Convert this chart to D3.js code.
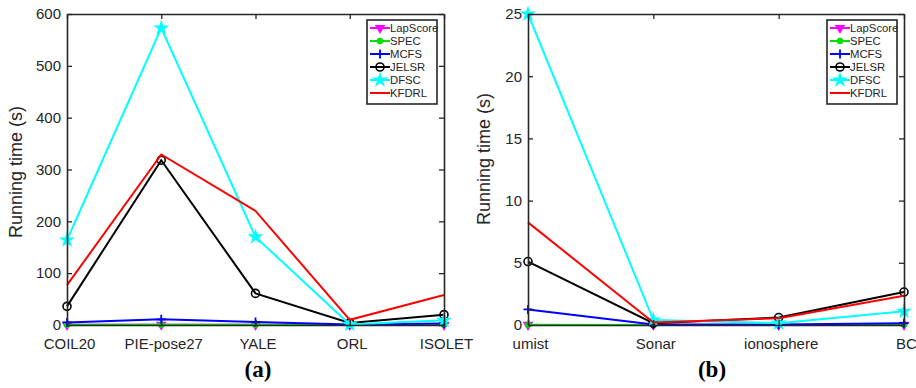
<!DOCTYPE html>
<html>
<head>
<meta charset="utf-8">
<script src="https://cdn.jsdelivr.net/npm/d3@7"></script>
<style>
body{margin:0;background:#fff;}
svg{display:block;}
</style>
</head>
<body>
<script>
var width=916;
var height=388;

// legend names
var seriesNames=["LapScore","SPEC","MCFS","JELSR","DFSC","KFDRL"];

// panel (a)
var catsA=["COIL20","PIE-pose27","YALE","ORL","ISOLET"];
var yTicksA=[0,100,200,300,400,500,600];
var lapA=[0.3,0.4,0.3,0.1,0.2];
var specA=[0.5,0.6,0.5,0.2,0.3];
var mcfsA=[5,11,6,1,3];
var jelsrA=[36,318,61,4,20];
var dfscA=[164,573,170,1,9];
var kfdrlA=[77,329,220,10,58];

// panel (b)
var catsB=["umist","Sonar","ionosphere","BC"];
var yTicksB=[0,5,10,15,20,25];
var lapB=[0.01,0.01,0.01,0.01];
var specB=[0.03,0.01,0.01,0.02];
var mcfsB=[1.25,0.05,0.05,0.15];
var jelsrB=[5.1,0.15,0.6,2.65];
var dfscB=[25,0.4,0.15,1.1];
var kfdrlB=[8.25,0.2,0.55,2.35];

var colors=["#ff00ff","#00e000","#0000ff","#000000","#00ffff","#ff0000"];
var markers=["tri","dot","plus","circle","star","none"];
var axisColor="#262626";
var font="'Liberation Sans', Arial, Helvetica, sans-serif";

var svg=d3.select("body")
    .append("svg")
    .attr("width",width)
    .attr("height",height);

function drawMarker(g,type,color){
    if(type=="tri"){
        g.append("path")
            .attr("d",d3.symbol().type(d3.symbolTriangle).size(48)())
            .attr("transform","rotate(180)")
            .attr("fill",color);
    }else if(type=="dot"){
        g.append("circle").attr("r",3.2).attr("fill",color);
    }else if(type=="plus"){
        g.append("path").attr("d","M-4.5,0H4.5M0,-4.5V4.5")
            .attr("stroke",color).attr("stroke-width",1.8).attr("fill","none");
    }else if(type=="circle"){
        g.append("circle").attr("r",4).attr("fill","none")
            .attr("stroke",color).attr("stroke-width",1.6);
    }else if(type=="star"){
        g.append("path")
            .attr("d",d3.symbol().type(d3.symbolStar).size(80)())
            .attr("fill",color);
    }
}

function drawPanel(p){
    var x=d3.scalePoint()
        .domain(p.cats)
        .range([p.left,p.right]);
    var y=d3.scaleLinear()
        .domain([0,p.ymax])
        .range([p.bottom,p.top]);

    var g=svg.append("g");

    var line=d3.line()
        .x(function(d,i){return x(p.cats[i]);})
        .y(function(d){return y(d);});

    p.series.forEach(function(vals,k){
        g.append("path")
            .datum(vals)
            .attr("d",line)
            .attr("fill","none")
            .attr("stroke",colors[k])
            .attr("stroke-width",2);
        vals.forEach(function(v,i){
            var m=g.append("g")
                .attr("transform","translate("+x(p.cats[i])+","+y(v)+")");
            drawMarker(m,markers[k],colors[k]);
        });
    });

    // axes, MATLAB style box with inward ticks
    var ax=svg.append("g");
    ax.append("g")
        .attr("transform","translate("+p.left+",0)")
        .call(d3.axisLeft(y).tickValues(p.yTicks).tickSize(-5).tickSizeOuter(0).tickPadding(6));
    ax.append("g")
        .attr("transform","translate("+p.right+",0)")
        .call(d3.axisRight(y).tickValues(p.yTicks).tickSize(-5).tickSizeOuter(0).tickFormat(""));
    var bottom=ax.append("g")
        .attr("transform","translate(0,"+p.bottom+")")
        .call(d3.axisBottom(x).tickSize(-5).tickSizeOuter(0).tickPadding(13));
    ax.append("g")
        .attr("transform","translate(0,"+p.top+")")
        .call(d3.axisTop(x).tickSize(-5).tickSizeOuter(0).tickFormat(""));

    ax.selectAll("path.domain").attr("stroke",axisColor).attr("stroke-width",1.6);
    ax.selectAll(".tick line").attr("stroke",axisColor).attr("stroke-width",1.3);
    ax.selectAll("text")
        .attr("fill",axisColor)
        .attr("font-size","15px")
        .attr("font-family",font);
    bottom.selectAll("text").attr("dx",2);

    // y label
    svg.append("text")
        .attr("transform","translate("+p.ylabX+","+p.ylabY+") rotate(-90)")
        .attr("text-anchor","middle")
        .attr("fill",axisColor)
        .attr("font-size","18px")
        .attr("font-family",font)
        .text("Running time (s)");

    // legend
    var lg=svg.append("g");
    lg.append("rect")
        .attr("x",p.legX)
        .attr("y",20)
        .attr("width",70)
        .attr("height",84)
        .attr("fill","#fff")
        .attr("stroke",axisColor)
        .attr("stroke-width",1.6);
    seriesNames.forEach(function(name,k){
        var ly=28+k*13;
        lg.append("line")
            .attr("x1",p.legX+3).attr("x2",p.legX+23)
            .attr("y1",ly).attr("y2",ly)
            .attr("stroke",colors[k]).attr("stroke-width",2);
        var m=lg.append("g").attr("transform","translate("+(p.legX+13)+","+ly+")");
        drawMarker(m,markers[k],colors[k]);
        lg.append("text")
            .attr("x",p.legX+23)
            .attr("y",ly)
            .attr("dy","0.35em")
            .attr("fill",axisColor)
            .attr("font-size","11.3px")
            .attr("font-family",font)
            .text(name);
    });

    // sub title
    svg.append("text")
        .attr("x",p.titleX)
        .attr("y",377)
        .attr("text-anchor","middle")
        .attr("font-size","23px")
        .attr("font-weight","bold")
        .attr("font-family","'Liberation Serif', 'Times New Roman', serif")
        .attr("fill","#000")
        .text(p.title);
}

drawPanel({
    cats:catsA, series:[lapA,specA,mcfsA,jelsrA,dfscA,kfdrlA],
    ymax:600, yTicks:yTicksA,
    left:67, right:444, top:14, bottom:325,
    ylabX:22, ylabY:172, legX:367, titleX:258, title:"(a)"
});

drawPanel({
    cats:catsB, series:[lapB,specB,mcfsB,jelsrB,dfscB,kfdrlB],
    ymax:25, yTicks:yTicksB,
    left:528, right:904, top:14, bottom:325,
    ylabX:490, ylabY:159, legX:827, titleX:712, title:"(b)"
});
</script>
</body>
</html>
